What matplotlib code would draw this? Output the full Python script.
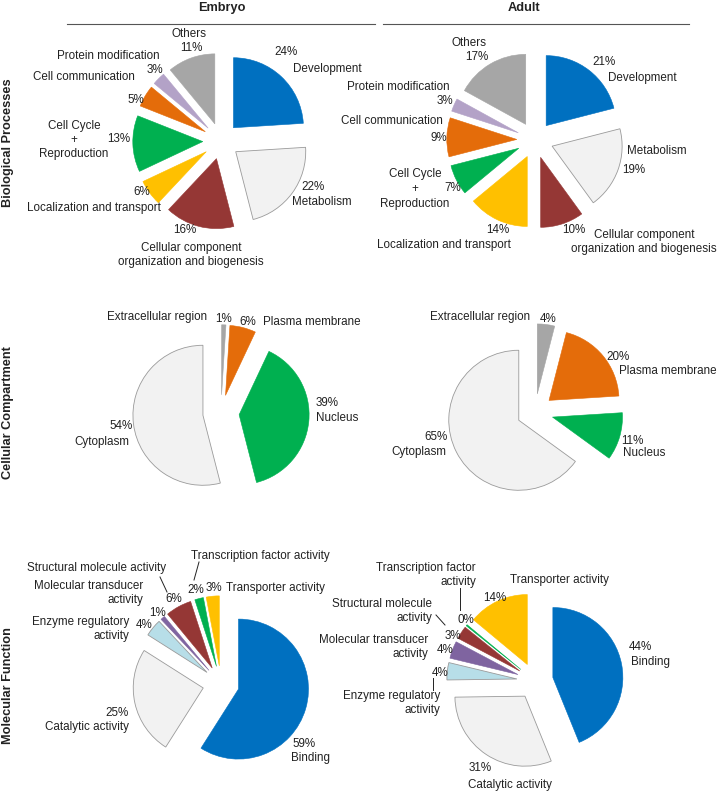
import matplotlib
matplotlib.use("Agg")
import matplotlib.pyplot as plt

plt.rcParams['font.family'] = ['Liberation Sans', 'DejaVu Sans']

W, H = 720, 793
R = 70.0          # pie radius in px
EXPL = 0.26       # explode fraction

# ---------------- data ----------------
bp_cats = ["Development", "Metabolism",
           "Cellular component\norganization and biogenesis",
           "Localization and transport", "Cell Cycle\n+\nReproduction",
           "Cell communication", "Protein modification", "Others"]
bp_embryo = [24, 22, 16, 6, 13, 5, 3, 11]
bp_adult = [21, 19, 10, 14, 7, 9, 3, 17]
bp_colors = ["#0070C0", "#F2F2F2", "#953735", "#FFC000", "#00B050",
             "#E46C0A", "#B3A2C7", "#A6A6A6"]

cc_cats = ["Extracellular region", "Plasma membrane", "Nucleus", "Cytoplasm"]
cc_embryo = [1, 6, 39, 54]
cc_adult = [4, 20, 11, 65]
cc_colors = ["#A6A6A6", "#E46C0A", "#00B050", "#F2F2F2"]

mf_cats = ["Binding", "Catalytic activity", "Enzyme regulatory\nactivity",
           "Molecular transducer\nactivity", "Structural molecule activity",
           "Transcription factor activity", "Transporter activity"]
mf_cats_adult = ["Binding", "Catalytic activity", "Enzyme regulatory\nactivity",
                 "Molecular transducer\nactivity", "Structural molecule\nactivity",
                 "Transcription factor\nactivity", "Transporter activity"]
mf_embryo = [59, 25, 4, 1, 6, 2, 3]
mf_adult = [44, 31, 4, 4, 3, 0.3, 14]
mf_colors = ["#0070C0", "#F2F2F2", "#B7DEE8", "#7F64A0", "#953735",
             "#00B050", "#FFC000"]

columns = ["Embryo", "Adult"]
rows = ["Biological Processes", "Cellular Compartment", "Molecular Function"]

# ---------------- layout (pixels) ----------------
centers = {
    ("bp", 0): (221, 141), ("bp", 1): (535, 140),
    ("cc", 0): (221, 413), ("cc", 1): (535, 412),
    ("mf", 0): (221, 684), ("mf", 1): (535, 681),
}
# per category: (pct_x, pct_y, pct_ha, name_x, name_y, name_ha)
label_pos = {
    ("bp", 0): [(286, 52, 'center', 327, 69, 'center'),
                (313, 187, 'center', 322, 202, 'center'),
                (185, 230, 'center', 191, 255, 'center'),
                (142, 192, 'center', 94, 208, 'center'),
                (119, 139, 'center', 74, 140, 'center'),
                (136, 100, 'center', 84, 77, 'center'),
                (155, 70, 'center', 108, 56, 'center'),
                (191, 48, 'center', 189, 34, 'center')],
    ("bp", 1): [(604, 62, 'center', 642, 78, 'center'),
                (634, 170, 'center', 657, 151, 'center'),
                (574, 230, 'center', 644, 242, 'center'),
                (498, 230, 'center', 444, 245, 'center'),
                (453, 188, 'center', 415, 189, 'center'),
                (439, 138, 'center', 443, 121, 'right'),
                (445, 101, 'center', 450, 87, 'right'),
                (477, 57, 'center', 469, 43, 'center')],
    ("cc", 0): [(224, 319, 'center', 157, 317, 'center'),
                (248, 322, 'center', 263, 322, 'left'),
                (316, 403, 'left', 316, 418, 'left'),
                (121, 426, 'center', 102, 442, 'center')],
    ("cc", 1): [(548, 319, 'center', 480, 317, 'center'),
                (618, 357, 'center', 668, 371, 'center'),
                (632, 441, 'center', 644, 453, 'center'),
                (436, 437, 'center', 419, 452, 'center')],
    ("mf", 0): [(304, 744, 'center', 311, 758, 'center'),
                (117, 713, 'center', 87, 727, 'center'),
                (144, 625, 'center', 129, 629, 'right'),
                (158, 613, 'center', 143, 593, 'right'),
                (174, 599, 'center', 97, 568, 'center'),
                (196, 590, 'center', 260, 556, 'center'),
                (214, 588, 'center', 276, 588, 'center')],
    ("mf", 1): [(640, 647, 'center', 650, 662, 'center'),
                (480, 768, 'center', 510, 785, 'center'),
                (440, 673, 'center', 440, 703, 'right'),
                (445, 650, 'center', 428, 647, 'right'),
                (453, 636, 'center', 432, 611, 'right'),
                (466, 620, 'center', 476, 575, 'right'),
                (495, 598, 'center', 560, 580, 'center')],
}
leaders = {
    ("mf", 0): [((160, 577), (167, 592)), ((199, 562), (194, 580))],
    ("mf", 1): [((433, 678), (433, 690)), ((436, 615), (445, 625)),
                ((460, 588), (460, 610))],
}

TXT = "#222222"
FS = 8.4
FSB = 9.2
LINE_H = 14.5

fig = plt.figure(figsize=(W / 100, H / 100), dpi=100)

datasets = {
    ("bp", 0): (bp_embryo, bp_colors, bp_cats),
    ("bp", 1): (bp_adult, bp_colors, bp_cats),
    ("cc", 0): (cc_embryo, cc_colors, cc_cats),
    ("cc", 1): (cc_adult, cc_colors, cc_cats),
    ("mf", 0): (mf_embryo, mf_colors, mf_cats),
    ("mf", 1): (mf_adult, mf_colors, mf_cats_adult),
}

S = 1.5  # half-extent of pie axes in radius units
for key, (vals, cols, cats) in datasets.items():
    cx, cy = centers[key]
    half = S * R
    ax = fig.add_axes([(cx - half) / W, (H - cy - half) / H,
                       2 * half / W, 2 * half / H])
    wedges, _ = ax.pie(vals, colors=cols, startangle=90, counterclock=False,
                       explode=[EXPL] * len(vals), radius=1.0)
    for w, c in zip(wedges, cols):
        if c in ("#F2F2F2", "#B7DEE8"):
            w.set_edgecolor("#9a9a9a")
            w.set_linewidth(0.6)
        else:
            w.set_edgecolor(c)
            w.set_linewidth(0.4)
    ax.set_xlim(-S, S)
    ax.set_ylim(-S, S)
    ax.set_aspect('equal')
    ax.axis('off')

# overlay for text
ov = fig.add_axes([0, 0, 1, 1], facecolor='none')
ov.set_xlim(0, W)
ov.set_ylim(H, 0)
ov.axis('off')

for key, (vals, cols, cats) in datasets.items():
    for v, name, lp in zip(vals, cats, label_pos[key]):
        px, py, pha, nx, ny, nha = lp
        ov.text(px, py, f"{v:.0f}%", ha=pha, va='center', fontsize=FS, color=TXT)
        lines = name.split("\n")
        n = len(lines)
        for i, ln in enumerate(lines):
            yy = ny + (i - (n - 1) / 2) * LINE_H
            ov.text(nx, yy, ln, ha=nha, va='center', fontsize=FS, color=TXT)
    for (a, b) in leaders.get(key, []):
        ov.plot([a[0], b[0]], [a[1], b[1]], color=TXT, lw=0.7)

# headers
ov.text(222, 8, columns[0], ha='center', va='center', fontsize=FSB,
        fontweight='bold', color=TXT)
ov.text(524, 8, columns[1], ha='center', va='center', fontsize=FSB,
        fontweight='bold', color=TXT)
ov.plot([67, 375], [24, 24], color="#555555", lw=0.8)
ov.plot([383, 689], [24, 24], color="#555555", lw=0.8)

for lab, y in zip(rows, [143, 413, 686]):
    ov.text(8, y, lab, rotation=90, ha='center', va='center', fontsize=FSB,
            fontweight='bold', color=TXT)

fig.savefig("out.png", dpi=100)
